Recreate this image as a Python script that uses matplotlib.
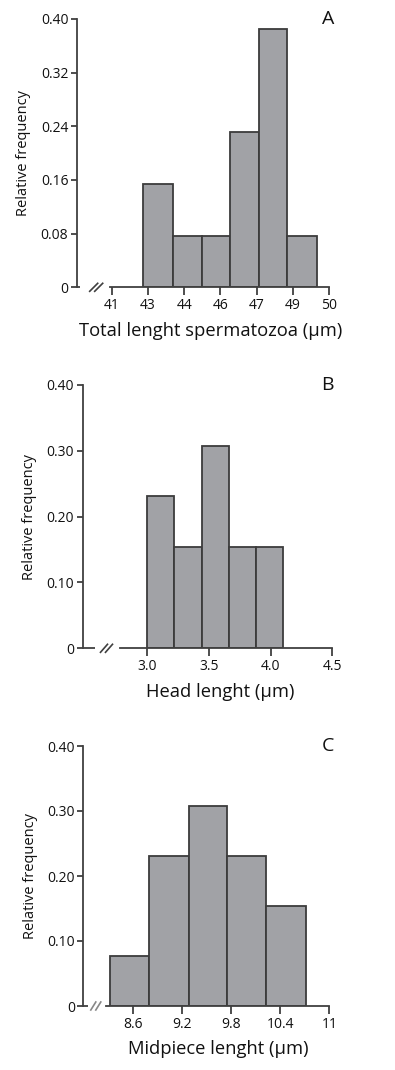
import matplotlib
matplotlib.use("Agg")
import matplotlib.pyplot as plt

plt.rcParams['font.family'] = ['Open Sans', 'DejaVu Sans']

# ---- Data ----
# Panel A: total length (axis uses evenly spaced, labelled ticks)
tick_labels_A = ["41", "43", "44", "46", "47", "49", "50"]
bin_edges_A = [0.87, 1.68, 2.49, 3.26, 4.06, 4.85, 5.66]   # in tick-index units
freq_A = [0.1538, 0.0769, 0.0769, 0.2308, 0.3846, 0.0769]
yticks_A = [0, 0.08, 0.16, 0.24, 0.32, 0.40]
yticklabels_A = ["0", "0.08", "0.16", "0.24", "0.32", "0.40"]

# Panel B: head length
bin_edges_B = [3.00, 3.22, 3.44, 3.66, 3.88, 4.10]
freq_B = [0.2308, 0.1538, 0.3077, 0.1538, 0.1538]
xticks_B = [3.0, 3.5, 4.0, 4.5]
xticklabels_B = ["3.0", "3.5", "4.0", "4.5"]
yticks_B = [0, 0.10, 0.20, 0.30, 0.40]
yticklabels_B = ["0", "0.10", "0.20", "0.30", "0.40"]

# Panel C: midpiece length
bin_edges_C = [8.32, 8.79, 9.28, 9.75, 10.22, 10.71]
freq_C = [0.0769, 0.2308, 0.3077, 0.2308, 0.1538]
xticks_C = [8.6, 9.2, 9.8, 10.4, 11.0]
xticklabels_C = ["8.6", "9.2", "9.8", "10.4", "11"]
yticks_C = [0, 0.10, 0.20, 0.30, 0.40]
yticklabels_C = ["0", "0.10", "0.20", "0.30", "0.40"]

xlabels = ["Total lenght spermatozoa (\u00b5m)", "Head lenght (\u00b5m)", "Midpiece lenght (\u00b5m)"]
panel_letters = ["A", "B", "C"]

# ---- Styling ----
W, H = 395, 1070
fig = plt.figure(figsize=(W / 100, H / 100), dpi=100)
BAR = "#a1a2a6"
EDGE = "#3c3c3c"
AX = "#404040"
TXT = "#111111"

def px_axes(left, top, right, bottom):
    return fig.add_axes([left / W, 1 - bottom / H, (right - left) / W, (bottom - top) / H])

axA = px_axes(76.7, 19, 329, 287.3)
axB = px_axes(82.5, 385, 332.3, 648.3)
axC = px_axes(83.3, 746, 329.3, 1006)

def style(ax, xlim, spine_start, xticks, xticklabels, yticks, yticklabels,
          xlabel, xlabel_px, letter, letter_px, stub_px, brk_px, brk_color):
    ax.set_xlim(*xlim)
    ax.set_ylim(0, 0.40)
    for s in ("top", "right"):
        ax.spines[s].set_visible(False)
    for s in ("left", "bottom"):
        ax.spines[s].set_color(AX)
        ax.spines[s].set_linewidth(1.3)
    ax.spines["bottom"].set_bounds(spine_start, xlim[1])
    ax.set_xticks(xticks)
    ax.set_xticklabels(xticklabels)
    ax.set_yticks(yticks)
    ax.set_yticklabels(yticklabels)
    ax.tick_params(axis="x", direction="out", length=6, width=1.3, color=AX,
                   labelsize=10, pad=2, labelcolor=TXT)
    ax.tick_params(axis="y", direction="out", length=4, width=1.3, color=AX,
                   labelsize=10, pad=2, labelcolor=TXT)
    bb = ax.get_position()
    axw = bb.width * W
    ax.set_xlabel(xlabel, fontsize=13.2, labelpad=6, color=TXT, x=xlabel_px / axw)
    ax.set_ylabel("Relative frequency", fontsize=10.5, labelpad=7, color=TXT)
    ax.text(letter_px / axw, 1.0, letter, transform=ax.transAxes, ha="center",
            va="center", fontsize=14, color=TXT)
    # stub of the x axis next to the y axis, and the break mark
    ax.plot([0, stub_px / axw], [0, 0], transform=ax.transAxes, color=AX,
            lw=1.3, clip_on=False, solid_capstyle="butt")
    for off in (0, 5):
        x0 = (brk_px[0] + off) / axw
        x1 = (brk_px[1] + off) / axw
        h = 8 / (bb.height * H)
        ax.plot([x0, x1], [-h / 2, h / 2], transform=ax.transAxes,
                color=brk_color, lw=1.2, clip_on=False)

def widths(edges):
    return [b - a for a, b in zip(edges[:-1], edges[1:])]

# Panel A
axA.bar(bin_edges_A[:-1], freq_A, width=widths(bin_edges_A), align="edge",
        color=BAR, edgecolor=EDGE, linewidth=1.3)
style(axA, (-0.967, 6), -0.05, list(range(len(tick_labels_A))), tick_labels_A,
      yticks_A, yticklabels_A, xlabels[0], 134, panel_letters[0], 251, 3.5, (13, 21), AX)

# Panel B
axB.bar(bin_edges_B[:-1], freq_B, width=widths(bin_edges_B), align="edge",
        color=BAR, edgecolor=EDGE, linewidth=1.3)
style(axB, (2.475, 4.5), 2.78, xticks_B, xticklabels_B, yticks_B, yticklabels_B,
      xlabels[1], 138, panel_letters[1], 245, 12, (18, 25), AX)

# Panel C
axC.bar(bin_edges_C[:-1], freq_C, width=widths(bin_edges_C), align="edge",
        color=BAR, edgecolor=EDGE, linewidth=1.3)
style(axC, (7.99, 11.0), 8.27, xticks_C, xticklabels_C, yticks_C, yticklabels_C,
      xlabels[2], 135, panel_letters[2], 245, 5, (7.5, 12.5), "#888888")

fig.savefig("out.png", dpi=100, facecolor="white")
